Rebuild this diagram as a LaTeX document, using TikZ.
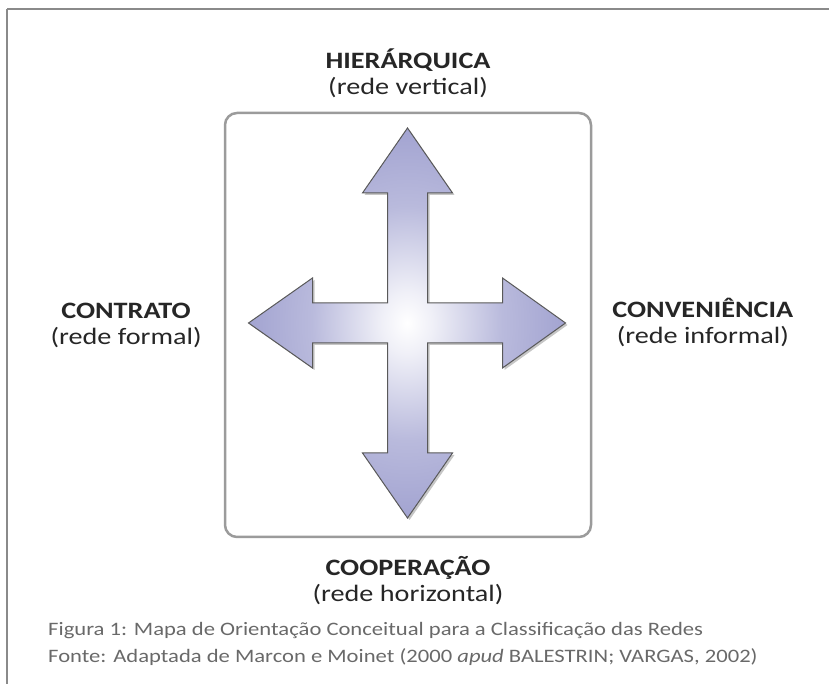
\documentclass[tikz,border=0pt]{standalone}
\usepackage{fontspec}
\usepackage{tikz}
\usetikzlibrary{positioning, shadows}
\newfontfamily\labelfont{Carlito}[FakeStretch=1.2]
\newfontfamily\captionfont{Carlito}[FakeStretch=1.19]
\definecolor{crossblue}{RGB}{100,102,178}
\definecolor{framegray}{RGB}{138,138,138}
\definecolor{boxgray}{RGB}{155,155,155}
\definecolor{captiongray}{RGB}{105,105,105}
\pgfdeclareradialshading{crossglow}{\pgfpoint{0bp}{0bp}}{color(0bp)=(white); color(4bp)=(white!90!crossblue); color(15bp)=(white!55!crossblue); color(32bp)=(white!30!crossblue); color(50bp)=(crossblue); color(100bp)=(crossblue)}

\begin{document}
\begin{tikzpicture}[x=1pt, y=1pt, node distance=2cm,
		frame/.style={framegray, line width=2pt},
		mapbox/.style={rectangle, draw=boxgray, line width=2.5pt, rounded corners=12pt, minimum width=366pt, minimum height=424pt},
		arrowcross/.style={draw=black!65, line width=1pt, shading=crossglow, drop shadow={opacity=0.45, shadow xshift=2pt, shadow yshift=-2pt}},
		label/.style={align=center, text=black!85, font=\labelfont\fontsize{23.5}{26}\selectfont, inner sep=0pt},
		capt/.style={align=left, text=captiongray, font=\captionfont\fontsize{19}{27}\selectfont, inner sep=0pt, anchor=north west}]

	\useasboundingbox (0,0) rectangle (829,684);

	%Outer frame, open at the right and bottom.
	\coordinate (corner) at (7,675);
	\draw [frame] (corner) -- (829,675);
	\draw [frame] (corner) -- (7,0);

	\node [mapbox] (box) at (408,359) {};
	\coordinate (mid) at (407.5,361);

	%The four arrows as one shape.
	\path [arrowcross, shift={(mid)}]
		(0,195) -- (45,130) -- (20,130) -- (20,20) -- (95,20) -- (95,45) -- (158,0)
		-- (95,-45) -- (95,-20) -- (20,-20) -- (20,-130) -- (45,-130) -- (0,-195)
		-- (-45,-130) -- (-20,-130) -- (-20,-20) -- (-95,-20) -- (-95,-45) -- (-159,0)
		-- (-95,45) -- (-95,20) -- (-20,20) -- (-20,130) -- (-45,130) -- cycle;

	\node [label] (hier) [above=14pt of box]  {\textbf{HIERÁRQUICA}\\(rede vertical)};
	\node [label] (coop) [below=18pt of box]  {\textbf{COOPERAÇÃO}\\(rede horizontal)};
	\node [label] (contr) [left=22pt of box]  {\textbf{CONTRATO}\\(rede formal)};
	\node [label] (conv) [right=20pt of box, yshift=3pt] {\textbf{CONVENIÊNCIA}\\(rede informal)};

	\node [capt] (fig-txt) at (48,62) {Figura 1: Mapa de Orientação Conceitual para a Classificação das Redes\\Fonte: Adaptada de Marcon e Moinet (2000 \textit{apud} BALESTRIN; VARGAS, 2002)};

\end{tikzpicture}
\end{document}
